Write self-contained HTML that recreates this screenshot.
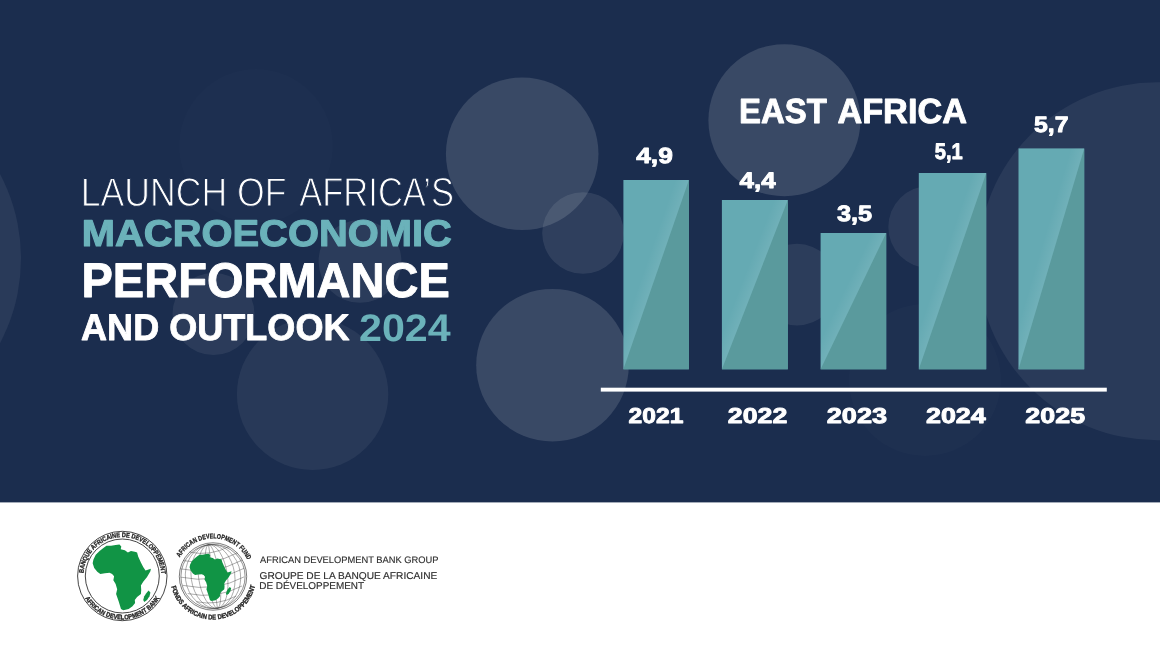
<!DOCTYPE html>
<html lang="en">
<head>
<meta charset="utf-8">
<title>Launch of Africa's Macroeconomic Performance and Outlook 2024 - East Africa</title>
<style>
html,body{margin:0;padding:0;background:#fff;}
body{width:1160px;height:653px;overflow:hidden;position:relative;font-family:"Liberation Sans",sans-serif;}
svg{display:block;position:absolute;left:0;top:0;}
text{font-family:"Liberation Sans",sans-serif;text-rendering:geometricPrecision;}
.b{font-weight:bold;}
</style>
</head>
<body>
<svg width="1160" height="653" viewBox="0 0 1160 653">
<rect x="0" y="0" width="1160" height="502.4" fill="#1b2d4e"/>
<g fill="#ffffff">
<circle cx="522.2" cy="153.8" r="76.3" fill-opacity="0.135"/>
<circle cx="784.4" cy="120.3" r="76" fill-opacity="0.135"/>
<circle cx="552.5" cy="365.2" r="76.3" fill-opacity="0.135"/>
<circle cx="583" cy="233" r="40.8" fill-opacity="0.09"/>
<circle cx="312.6" cy="394.3" r="75.7" fill-opacity="0.06"/>
<circle cx="1157" cy="261.3" r="179" fill-opacity="0.062"/>
<circle cx="-160" cy="258.6" r="181" fill-opacity="0.062"/>
<circle cx="256" cy="146" r="77" fill-opacity="0.012"/>
<circle cx="929.3" cy="227" r="41" fill-opacity="0.072"/>
<circle cx="797" cy="284.6" r="40.8" fill-opacity="0.078"/>
<circle cx="360" cy="261.4" r="41.4" fill-opacity="0.075"/>
<circle cx="213.5" cy="314" r="41" fill-opacity="0.072"/>
<circle cx="925" cy="380" r="76" fill-opacity="0.014"/>
</g>
<g fill="#ffffff">
<text x="80.71" y="206.00" font-size="40.23" textLength="205.78" lengthAdjust="spacingAndGlyphs" stroke="#1b2d4e" stroke-width="1.1">LAUNCH OF</text>
<text x="299.28" y="206.00" font-size="40.60" textLength="154.70" lengthAdjust="spacingAndGlyphs" stroke="#1b2d4e" stroke-width="1.1">AFRICA’S</text>
<text x="81.84" y="246.00" font-size="37.31" textLength="370.11" lengthAdjust="spacingAndGlyphs" class="b" fill="#6bb2ba" stroke="#6bb2ba" stroke-width="1.1" stroke-linejoin="round">MACROECONOMIC</text>
<text x="81.53" y="297.30" font-size="48.64" textLength="368.29" lengthAdjust="spacingAndGlyphs" class="b" stroke="#ffffff" stroke-width="0.9" stroke-linejoin="round">PERFORMANCE</text>
<text x="81.05" y="340.45" font-size="37.07" textLength="268.45" lengthAdjust="spacingAndGlyphs" class="b" stroke="#ffffff" stroke-width="0.8" stroke-linejoin="round">AND OUTLOOK</text>
<text x="359.08" y="341.10" font-size="38.44" textLength="91.58" lengthAdjust="spacingAndGlyphs" class="b" fill="#6bb2ba">2024</text>
</g>
<text x="738.93" y="123.20" font-size="34.94" textLength="87.87" lengthAdjust="spacingAndGlyphs" class="b" fill="#fff" stroke="#fff" stroke-width="0.9" stroke-linejoin="round">EAST</text>
<text x="837.40" y="123.20" font-size="34.94" textLength="129.60" lengthAdjust="spacingAndGlyphs" class="b" fill="#fff" stroke="#fff" stroke-width="0.9" stroke-linejoin="round">AFRICA</text>
<rect x="623.4" y="180.0" width="65.5" height="189.3" fill="#65aab3"/>
<polygon points="688.9,180.0 688.9,369.3 623.4,369.3" fill="#5a9a9d"/>
<defs><linearGradient id="g623" gradientUnits="userSpaceOnUse" x1="656.15" y1="274.65" x2="643.86" y2="270.40"><stop offset="0" stop-color="#fff" stop-opacity="0.075"/><stop offset="1" stop-color="#fff" stop-opacity="0"/></linearGradient></defs>
<polygon points="688.9,180.0 623.4,180.0 623.4,369.3" fill="url(#g623)"/>
<rect x="721.9" y="200.0" width="65.9" height="169.3" fill="#65aab3"/>
<polygon points="787.8,200.0 787.8,369.3 721.9,369.3" fill="#5a9a9d"/>
<defs><linearGradient id="g721" gradientUnits="userSpaceOnUse" x1="754.85" y1="284.65" x2="742.74" y2="279.93"><stop offset="0" stop-color="#fff" stop-opacity="0.075"/><stop offset="1" stop-color="#fff" stop-opacity="0"/></linearGradient></defs>
<polygon points="787.8,200.0 721.9,200.0 721.9,369.3" fill="url(#g721)"/>
<rect x="820.6" y="233.0" width="65.6" height="136.3" fill="#65aab3"/>
<polygon points="886.2,233.0 886.2,369.3 820.6,369.3" fill="#5a9a9d"/>
<defs><linearGradient id="g820" gradientUnits="userSpaceOnUse" x1="853.40" y1="301.15" x2="841.69" y2="295.51"><stop offset="0" stop-color="#fff" stop-opacity="0.075"/><stop offset="1" stop-color="#fff" stop-opacity="0"/></linearGradient></defs>
<polygon points="886.2,233.0 820.6,233.0 820.6,369.3" fill="url(#g820)"/>
<rect x="918.8" y="173.0" width="67.4" height="196.3" fill="#65aab3"/>
<polygon points="986.2,173.0 986.2,369.3 918.8,369.3" fill="#5a9a9d"/>
<defs><linearGradient id="g918" gradientUnits="userSpaceOnUse" x1="952.50" y1="271.15" x2="940.20" y2="266.93"><stop offset="0" stop-color="#fff" stop-opacity="0.075"/><stop offset="1" stop-color="#fff" stop-opacity="0"/></linearGradient></defs>
<polygon points="986.2,173.0 918.8,173.0 918.8,369.3" fill="url(#g918)"/>
<rect x="1018.5" y="148.4" width="65.7" height="220.9" fill="#65aab3"/>
<polygon points="1084.2,148.4 1084.2,369.3 1018.5,369.3" fill="#5a9a9d"/>
<defs><linearGradient id="g1018" gradientUnits="userSpaceOnUse" x1="1051.35" y1="258.85" x2="1038.89" y2="255.14"><stop offset="0" stop-color="#fff" stop-opacity="0.075"/><stop offset="1" stop-color="#fff" stop-opacity="0"/></linearGradient></defs>
<polygon points="1084.2,148.4 1018.5,148.4 1018.5,369.3" fill="url(#g1018)"/>
<rect x="600.8" y="387.7" width="506" height="3.9" fill="#ffffff"/>
<text x="636.18" y="163.40" font-size="21.98" textLength="36.62" lengthAdjust="spacingAndGlyphs" class="b" fill="#fff" stroke="#fff" stroke-width="0.9" stroke-linejoin="round">4,9</text>
<text x="739.60" y="188.00" font-size="22.55" textLength="35.98" lengthAdjust="spacingAndGlyphs" class="b" fill="#fff" stroke="#fff" stroke-width="0.9" stroke-linejoin="round">4,4</text>
<text x="836.94" y="221.10" font-size="22.24" textLength="35.22" lengthAdjust="spacingAndGlyphs" class="b" fill="#fff" stroke="#fff" stroke-width="0.9" stroke-linejoin="round">3,5</text>
<text x="934.75" y="158.80" font-size="22.56" textLength="27.91" lengthAdjust="spacingAndGlyphs" class="b" fill="#fff" stroke="#fff" stroke-width="0.9" stroke-linejoin="round">5,1</text>
<text x="1033.93" y="132.00" font-size="22.27" textLength="34.53" lengthAdjust="spacingAndGlyphs" class="b" fill="#fff" stroke="#fff" stroke-width="0.9" stroke-linejoin="round">5,7</text>
<text x="628.60" y="423.30" font-size="21.53" textLength="54.86" lengthAdjust="spacingAndGlyphs" class="b" fill="#fff" stroke="#fff" stroke-width="0.9" stroke-linejoin="round">2021</text>
<text x="727.79" y="423.30" font-size="21.53" textLength="59.52" lengthAdjust="spacingAndGlyphs" class="b" fill="#fff" stroke="#fff" stroke-width="0.9" stroke-linejoin="round">2022</text>
<text x="826.69" y="423.30" font-size="21.53" textLength="60.43" lengthAdjust="spacingAndGlyphs" class="b" fill="#fff" stroke="#fff" stroke-width="0.9" stroke-linejoin="round">2023</text>
<text x="925.90" y="423.30" font-size="21.53" textLength="59.97" lengthAdjust="spacingAndGlyphs" class="b" fill="#fff" stroke="#fff" stroke-width="0.9" stroke-linejoin="round">2024</text>
<text x="1025.39" y="423.30" font-size="21.53" textLength="59.77" lengthAdjust="spacingAndGlyphs" class="b" fill="#fff" stroke="#fff" stroke-width="0.9" stroke-linejoin="round">2025</text>
<defs><path id="africa" d="M103.39,547.97 L106.46,545.67 L111.05,545.83 L115.64,544.91 L119.47,544.60 L121.31,546.44 L120.70,549.20 L124.83,550.27 L127.90,552.57 L130.96,551.03 L134.79,551.80 L137.08,552.57 L138.16,556.39 L140.91,562.52 L143.21,567.11 L145.51,570.48 L150.87,568.64 L150.41,571.25 L147.04,577.07 L143.21,581.66 L140.91,585.49 L141.22,590.08 L140.91,593.91 L137.08,596.98 L134.79,600.04 L135.09,603.10 L132.49,606.16 L128.66,608.92 L123.30,610.15 L121.00,608.92 L118.71,601.57 L116.10,593.91 L117.18,589.32 L115.64,583.96 L113.35,580.13 L114.11,576.30 L112.12,574.00 L109.52,572.78 L104.92,573.24 L100.33,574.00 L97.27,571.71 L94.21,567.88 L92.67,563.28 L93.44,559.46 L95.74,554.86 L99.57,551.03Z"/><path id="mada" d="M148.57,590.54 L150.41,592.38 L149.49,596.21 L147.04,600.04 L144.28,601.88 L143.21,600.04 L144.28,596.21 L146.27,593.15Z"/></defs>
<g id="logo1"><circle cx="122.3" cy="576" r="44.7" fill="#fff" stroke="#232323" stroke-width="0.85"/><circle cx="122.3" cy="576" r="37" fill="#fff" stroke="#232323" stroke-width="0.85"/>
<use href="#africa" fill="#119445"/><use href="#mada" fill="#119445"/>
<path id="l1t" d="M83.49,573.29 A38.9,38.9 0 0 1 161.15,573.96" fill="none"/><text font-size="6.6" class="b" fill="#232323" stroke="#232323" stroke-width="0.3"><textPath href="#l1t" textLength="117.5" lengthAdjust="spacingAndGlyphs">BANQUE AFRICAINE DE DEVELOPPEMENT</textPath></text>
<path id="l1b" d="M85.10,598.35 A43.4,43.4 0 0 0 159.50,598.35" fill="none"/><text font-size="6.6" class="b" fill="#232323" stroke="#232323" stroke-width="0.3"><textPath href="#l1b" textLength="89.4" lengthAdjust="spacingAndGlyphs">AFRICAN DEVELOPMENT BANK</textPath></text>
</g>
<g id="logo2">
<circle cx="213" cy="576.5" r="33.7" fill="#fff" stroke="#232323" stroke-width="0.6"/><circle cx="213" cy="576.5" r="32.1" fill="none" stroke="#232323" stroke-width="0.5"/>
<g transform="rotate(-8 213 576.5)" fill="none" stroke="#444" stroke-width="0.42">
<ellipse cx="213" cy="576.5" rx="6.42" ry="32.1"/>
<ellipse cx="213" cy="576.5" rx="14.45" ry="32.1"/>
<ellipse cx="213" cy="576.5" rx="21.83" ry="32.1"/>
<ellipse cx="213" cy="576.5" rx="27.61" ry="32.1"/>
<line x1="213" y1="544.4" x2="213" y2="608.6"/>
<path d="M192.91,549.05 Q213.00,556.28 233.09,549.05"/>
<path d="M185.58,556.52 Q213.00,566.39 240.42,556.52"/>
<path d="M182.00,564.43 Q213.00,575.59 244.00,564.43"/>
<path d="M180.90,572.65 Q213.00,584.20 245.10,572.65"/>
<path d="M182.00,581.13 Q213.00,592.29 244.00,581.13"/>
<path d="M185.58,589.90 Q213.00,599.77 240.42,589.90"/>
<path d="M192.91,599.13 Q213.00,606.36 233.09,599.13"/>
</g>
<g transform="translate(210.55 577.40) scale(0.72) translate(-121.80 -577.30)"><use href="#africa" fill="#119445"/><use href="#mada" fill="#119445"/></g>
<path id="l2t" d="M179.92,557.40 A38.2,38.2 0 0 1 247.33,559.75" fill="none"/><text font-size="6.8" class="b" fill="#232323" stroke="#232323" stroke-width="0.3"><textPath href="#l2t" textLength="82.7" lengthAdjust="spacingAndGlyphs">AFRICAN DEVELOPMENT FUND</textPath></text>
<path id="l2b" d="M171.19,586.54 A43.0,43.0 0 0 0 254.98,585.81" fill="none"/><text font-size="6.8" class="b" fill="#232323" stroke="#232323" stroke-width="0.3"><textPath href="#l2b" textLength="115.6" lengthAdjust="spacingAndGlyphs">FONDS AFRICAIN DE DEVELOPPEMENT</textPath></text>
</g>
<g fill="#2e2e2e" stroke="#2e2e2e" stroke-width="0.15">
<text x="260.00" y="563.30" font-size="9.49" textLength="178.40" lengthAdjust="spacingAndGlyphs" >AFRICAN DEVELOPMENT BANK GROUP</text>
<text x="259.50" y="578.80" font-size="9.93" textLength="177.76" lengthAdjust="spacingAndGlyphs" >GROUPE DE LA BANQUE AFRICAINE</text>
<text x="259.24" y="588.80" font-size="9.93" textLength="104.81" lengthAdjust="spacingAndGlyphs" >DE DÉVELOPPEMENT</text>
</g>
</svg>
</body>
</html>
